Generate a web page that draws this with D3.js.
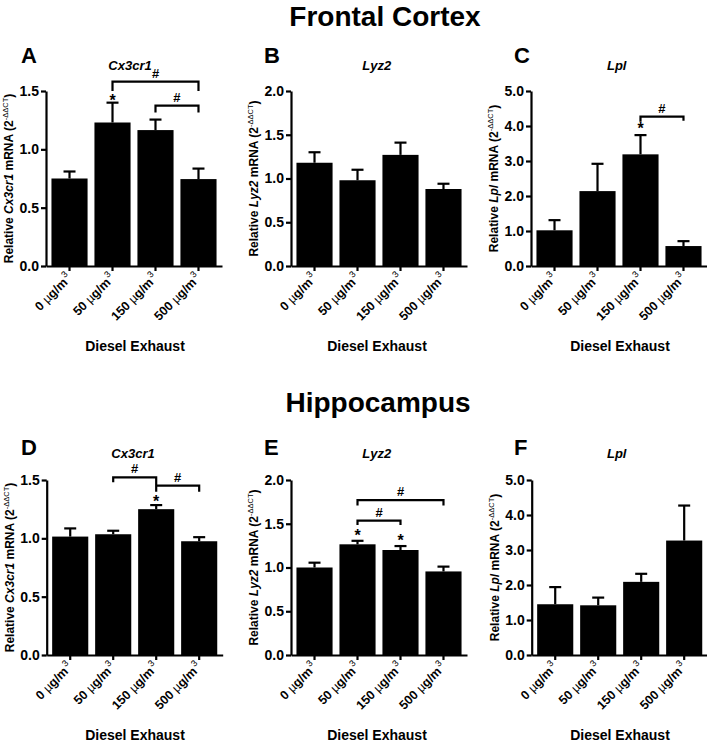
<!DOCTYPE html>
<html>
<head>
<meta charset="utf-8">
<script src="https://cdn.jsdelivr.net/npm/d3@7"></script>
<style>
  html, body { margin: 0; padding: 0; background: #fff; }
  svg text { font-family: "Liberation Sans", Arial, Helvetica, sans-serif; font-weight: bold; fill: #000; }
</style>
</head>
<body>
<svg id="chart" width="707" height="742"></svg>
<script>
// ---------- data ----------
const doses = ["0", "50", "150", "500"];

// Frontal cortex
const fcCx3cr1Mean = [0.75, 1.23, 1.165, 0.745];
const fcCx3cr1Sem  = [0.06, 0.17, 0.09, 0.09];
const fcLyz2Mean   = [1.18, 0.98, 1.27, 0.88];
const fcLyz2Sem    = [0.12, 0.12, 0.14, 0.06];
const fcLplMean    = [1.02, 2.14, 3.19, 0.57];
const fcLplSem     = [0.29, 0.78, 0.55, 0.14];

// Hippocampus
const hcCx3cr1Mean = [1.015, 1.035, 1.25, 0.975];
const hcCx3cr1Sem  = [0.07, 0.03, 0.035, 0.035];
const hcLyz2Mean   = [1.0, 1.265, 1.2, 0.955];
const hcLyz2Sem    = [0.055, 0.04, 0.045, 0.055];
const hcLplMean    = [1.45, 1.42, 2.09, 3.27];
const hcLplSem     = [0.49, 0.22, 0.23, 1.0];

// y tick values
const ticksCx  = [0, 0.5, 1.0, 1.5];
const ticksLyz = [0, 0.5, 1.0, 1.5, 2.0];
const ticksLpl = [0, 1, 2, 3, 4, 5];

// significance annotations (data units): brackets [fromIdx, toIdx, level, leftLegEnd, rightLegEnd], stars [idx, level]
const fcCx3cr1Brackets = [[1, 3, 1.58, 1.50, 1.50], [2, 3, 1.375, 1.315, 1.315]];
const fcCx3cr1Stars    = [[1, 1.437]];
const fcLplBrackets    = [[2, 3, 4.27, 4.12, 4.15]];
const fcLplStars       = [[2, 4.0]];
const hcCx3cr1Brackets = [[1, 2, 1.523, 1.48, 1.40], [2, 3, 1.451, 1.451, 1.40]];
const hcCx3cr1Stars    = [[2, 1.337]];
const hcLyz2Brackets   = [[1, 3, 1.771, 1.71, 1.71], [1, 2, 1.535, 1.485, 1.485]];
const hcLyz2Stars      = [[1, 1.386], [2, 1.337]];

// ---------- layout ----------
const svg = d3.select("#chart");

const panels = [
  {letter: "A", gene: "Cx3cr1", mean: fcCx3cr1Mean, sem: fcCx3cr1Sem, ticks: ticksCx,  brackets: fcCx3cr1Brackets, stars: fcCx3cr1Stars,
   left: 46, top: 91, bottom: 266, letterX: 21, letterY: 63, titleX: 130, titleY: 69.5, xTitleX: 135},
  {letter: "B", gene: "Lyz2",   mean: fcLyz2Mean,   sem: fcLyz2Sem,   ticks: ticksLyz, brackets: [], stars: [],
   left: 291, top: 91, bottom: 266, letterX: 264, letterY: 63, titleX: 376.7, titleY: 69.5, xTitleX: 377},
  {letter: "C", gene: "Lpl",    mean: fcLplMean,    sem: fcLplSem,    ticks: ticksLpl, brackets: fcLplBrackets, stars: fcLplStars,
   left: 531, top: 91, bottom: 266, letterX: 514, letterY: 63, titleX: 616.7, titleY: 70, xTitleX: 620},
  {letter: "D", gene: "Cx3cr1", mean: hcCx3cr1Mean, sem: hcCx3cr1Sem, ticks: ticksCx,  brackets: hcCx3cr1Brackets, stars: hcCx3cr1Stars,
   left: 46.7, top: 480, bottom: 655, letterX: 21, letterY: 455, titleX: 133, titleY: 457.5, xTitleX: 135},
  {letter: "E", gene: "Lyz2",   mean: hcLyz2Mean,   sem: hcLyz2Sem,   ticks: ticksLyz, brackets: hcLyz2Brackets, stars: hcLyz2Stars,
   left: 291, top: 480, bottom: 655, letterX: 264, letterY: 455, titleX: 376.7, titleY: 457.5, xTitleX: 377},
  {letter: "F", gene: "Lpl",    mean: hcLplMean,    sem: hcLplSem,    ticks: ticksLpl, brackets: [], stars: [],
   left: 531.7, top: 480, bottom: 655, letterX: 514, letterY: 455, titleX: 616.7, titleY: 458, xTitleX: 620}
];

const axisWidth = 176;

// section titles
svg.append("text").attr("x", 385).attr("y", 26).attr("text-anchor", "middle")
  .style("font-size", "28px").text("Frontal Cortex");
svg.append("text").attr("x", 378).attr("y", 412).attr("text-anchor", "middle")
  .style("font-size", "28px").text("Hippocampus");

panels.forEach(p => {
  const g = svg.append("g");
  const x = d3.scaleBand().domain(doses).range([p.left, p.left + axisWidth])
    .paddingInner(0.16).paddingOuter(0.127);
  const yMax = p.ticks[p.ticks.length - 1];
  const y = d3.scaleLinear().domain([0, yMax]).range([p.bottom, p.top]);

  // bars
  g.selectAll("rect.bar").data(p.mean).join("rect")
    .attr("class", "bar")
    .attr("x", (d, i) => x(doses[i]))
    .attr("width", x.bandwidth())
    .attr("y", d => y(d))
    .attr("height", d => y(0) - y(d))
    .attr("fill", "#000");

  // error bars (upper only)
  const capHalf = 6;
  p.mean.forEach((m, i) => {
    const cx = x(doses[i]) + x.bandwidth() / 2;
    g.append("line").attr("x1", cx).attr("x2", cx).attr("y1", y(m)).attr("y2", y(m + p.sem[i]))
      .attr("stroke", "#000").attr("stroke-width", 2.2);
    g.append("line").attr("x1", cx - capHalf).attr("x2", cx + capHalf)
      .attr("y1", y(m + p.sem[i])).attr("y2", y(m + p.sem[i]))
      .attr("stroke", "#000").attr("stroke-width", 2.2);
  });

  // y axis
  const fmt = d3.format(".1f");
  const yAxis = g.append("g").attr("transform", `translate(${p.left},0)`)
    .call(d3.axisLeft(y).tickValues(p.ticks).tickFormat(fmt).tickSize(5).tickSizeOuter(0).tickPadding(2));
  yAxis.selectAll("path, line").attr("stroke", "#000").attr("stroke-width", 2.2);
  yAxis.selectAll("text").style("font-size", "14px").attr("fill", "#000");

  // x axis
  const xAxis = g.append("g").attr("transform", `translate(0,${p.bottom})`)
    .call(d3.axisBottom(x).tickFormat("").tickSize(5).tickSizeOuter(0));
  xAxis.selectAll("path, line").attr("stroke", "#000").attr("stroke-width", 2.2);

  // rotated tick labels
  doses.forEach(d => {
    const cx = x(d) + x.bandwidth() / 2;
    const t = g.append("text")
      .attr("transform", `translate(${cx + 3},${p.bottom + 13}) rotate(-45)`)
      .attr("text-anchor", "end")
      .style("font-size", "12.5px");
    t.append("tspan").text(d + " ");
    t.append("tspan").style("font-weight", "normal").text("\u00B5");
    t.append("tspan").text("g/m");
    t.append("tspan").attr("dy", -6).attr("dx", 1).style("font-size", "9px").style("font-weight", "normal").text("3");
  });

  // x axis title
  g.append("text").attr("x", p.xTitleX).attr("y", p.bottom + 85)
    .attr("text-anchor", "middle").style("font-size", "14px").text("Diesel Exhaust");

  // y axis title
  const yl = g.append("text")
    .attr("transform", `translate(${p.left - 33},${(p.top + p.bottom) / 2}) rotate(-90)`)
    .attr("text-anchor", "middle").style("font-size", "12px");
  yl.append("tspan").text("Relative ");
  yl.append("tspan").style("font-style", "italic").text(p.gene);
  yl.append("tspan").text(" mRNA (2");
  yl.append("tspan").attr("dy", -5).style("font-size", "7.5px").style("font-weight", "normal").text("-\u0394\u0394CT");
  yl.append("tspan").attr("dy", 5).text(")");

  // panel letter
  g.append("text").attr("x", p.letterX).attr("y", p.letterY)
    .style("font-size", "22px").text(p.letter);
  // gene title
  g.append("text").attr("x", p.titleX).attr("y", p.titleY).attr("text-anchor", "middle")
    .style("font-size", "13px").style("font-style", "italic").text(p.gene);

  // brackets
  p.brackets.forEach(b => {
    const x1 = x(doses[b[0]]) + x.bandwidth() / 2;
    const x2 = x(doses[b[1]]) + x.bandwidth() / 2;
    const yy = y(b[2]);
    g.append("path")
      .attr("d", `M${x1},${y(b[3])}V${yy}H${x2}V${y(b[4])}`)
      .attr("fill", "none").attr("stroke", "#000").attr("stroke-width", 2.2);
    g.append("text").attr("x", (x1 + x2) / 2).attr("y", yy - 4)
      .attr("text-anchor", "middle").style("font-size", "13px").text("#");
  });

  // stars
  p.stars.forEach(s => {
    const cx = x(doses[s[0]]) + x.bandwidth() / 2;
    g.append("text").attr("x", cx).attr("y", y(s[1]) + 7.5)
      .attr("text-anchor", "middle").style("font-size", "16px").text("*");
  });
});
</script>
</body>
</html>
